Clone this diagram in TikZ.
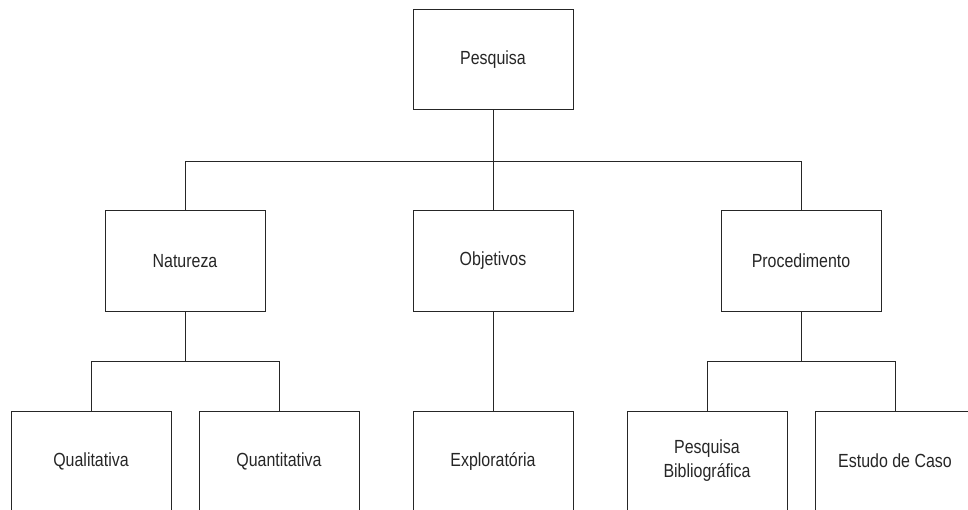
\documentclass[tikz,border=0pt]{standalone}
\usepackage{fontspec}
\newfontfamily\diagfont{Liberation Sans}[FakeStretch=0.84]
\usepackage{tikz}
\usetikzlibrary{positioning}

\begin{document}
\begin{tikzpicture}[x=1pt, y=-1pt]
          \tikzstyle{bnode} = [draw=black!85, line width=1pt, rectangle, minimum width=160pt, minimum height=100pt, inner sep=2pt, align=center, font=\diagfont\fontsize{19}{24}\selectfont, text=black!85]
          \tikzstyle{link} = [draw=black!85, line width=1pt]
          \useasboundingbox (0,0) rectangle (968,510);

          % topo
          \node[bnode] (pesq) at (493, 60) {Pesquisa};

          % segundo nivel
          \node[bnode] (nat) at (185, 261) {Natureza};
          \node[bnode] (obj) at (493, 261) {Objetivos};
          \node[bnode] (proc) at (801, 261) {Procedimento};

          % terceiro nivel
          \node[bnode] (qual) at (91, 461) {Qualitativa};
          \node[bnode] (quant) at (279, 461) {Quantitativa};
          \node[bnode] (expl) at (493, 461) {Exploratória};
          \node[bnode] (bib) at (707, 461) {Pesquisa\\Bibliográfica};
          \node[bnode] (caso) at (895, 461) {Estudo de Caso};

          \draw[link] (pesq.south) -- ++(0,51) -| (nat.north);
          \draw[link] (pesq.south) -- ++(0,51) -| (proc.north);
          \draw[link] (pesq) -- (obj);

          \draw[link] (nat.south) -- ++(0,50) -| (qual.north);
          \draw[link] (nat.south) -- ++(0,50) -| (quant.north);
          \draw[link] (obj) -- (expl);
          \draw[link] (proc.south) -- ++(0,50) -| (bib.north);
          \draw[link] (proc.south) -- ++(0,50) -| (caso.north);
        \end{tikzpicture}
\end{document}
